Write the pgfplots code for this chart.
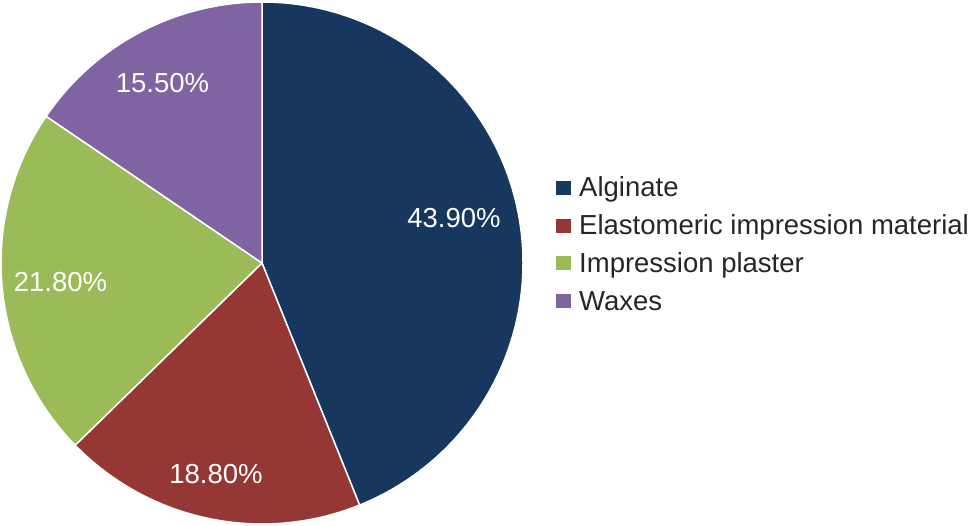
\documentclass[border=0pt]{standalone}
\usepackage{fontspec}
\setmainfont{Liberation Sans}
\usepackage{pgfplots}
\usepackage{pgfplotstable}
\pgfplotsset{compat=1.18}
\definecolor{c0}{HTML}{17375E}
\definecolor{c1}{HTML}{953735}
\definecolor{c2}{HTML}{9BBB59}
\definecolor{c3}{HTML}{8064A2}
\pgfplotstableread[col sep=comma]{
label,value,lx,ly
Alginate,43.9,454,307
Elastomeric impression material,18.8,216,51
Impression plaster,21.8,60.5,243
Waxes,15.5,162.5,442
}\pietable
\begin{document}
\begin{tikzpicture}
\begin{axis}[width=974pt,height=525pt,scale only axis,
  xmin=0,xmax=974,ymin=0,ymax=525,hide axis,clip=false,
  /pgf/number format/assume math mode=true]
\addplot[draw=none] coordinates {(0,0) (974,525)};
\pgfplotsextra{%
  \xdef\cumangle{90}%
  \foreach \i in {0,...,3}{%
    \pgfplotstablegetelem{\i}{value}\of\pietable
    \let\v\pgfplotsretval
    \pgfmathsetmacro\endang{\cumangle-3.6*\v}%
    \fill[c\i, draw=white, line width=1.5pt] (axis cs:262,262) -- ++(\cumangle:261pt)
      arc[start angle=\cumangle, end angle=\endang, radius=261pt] -- cycle;
    \xdef\cumangle{\endang}%
  }%
  \foreach \i in {0,...,3}{%
    \pgfplotstablegetelem{\i}{value}\of\pietable
    \let\v\pgfplotsretval
    \pgfplotstablegetelem{\i}{lx}\of\pietable
    \let\lx\pgfplotsretval
    \pgfplotstablegetelem{\i}{ly}\of\pietable
    \let\ly\pgfplotsretval
    \node[text=white, inner sep=0pt, font=\fontsize{27.5}{33}\selectfont]
      at (axis cs:\lx,\ly) {\pgfmathprintnumber[fixed,fixed zerofill,precision=2,assume math mode=true]{\v}\%};
    \pgfplotstablegetelem{\i}{label}\of\pietable
    \let\lab\pgfplotsretval
    \pgfmathsetmacro\by{328-37.7*\i}%
    \fill[c\i] (axis cs:556,\by+2) rectangle (axis cs:570.5,\by+16);
    \node[anchor=base west, inner sep=0pt, text=black!85, font=\fontsize{27.5}{33}\selectfont]
      at (axis cs:579,\by) {\lab};
  }%
}
\end{axis}
\pgfresetboundingbox
\path (0,0) rectangle (974pt,525pt);
\end{tikzpicture}
\end{document}
